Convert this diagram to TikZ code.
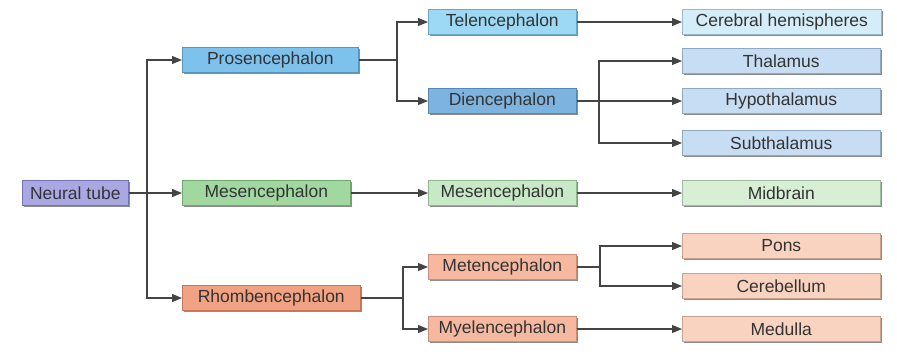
\documentclass[tikz,border=0pt]{standalone}
\usepackage{fontspec}
\setmainfont{Liberation Sans}
\usetikzlibrary{arrows.meta,shadows}
\definecolor{ntF}{HTML}{A9A8E2}\definecolor{ntD}{HTML}{7472B4}
\definecolor{proF}{HTML}{7DC2EC}\definecolor{proD}{HTML}{5A93BC}
\definecolor{telF}{HTML}{9DD9F4}\definecolor{telD}{HTML}{6AA8C8}
\definecolor{dieF}{HTML}{7CB4DF}\definecolor{dieD}{HTML}{5587B0}
\definecolor{cerF}{HTML}{D5EDF8}\definecolor{cerD}{HTML}{9AB8C8}
\definecolor{thaF}{HTML}{C6DDF3}\definecolor{thaD}{HTML}{90A8C0}
\definecolor{m1F}{HTML}{A0D8A0}\definecolor{m1D}{HTML}{70A870}
\definecolor{m2F}{HTML}{C8E9C6}\definecolor{m2D}{HTML}{90B890}
\definecolor{midF}{HTML}{D7EFD5}\definecolor{midD}{HTML}{A0BCA0}
\definecolor{rhoF}{HTML}{F1A283}\definecolor{rhoD}{HTML}{C07858}
\definecolor{metF}{HTML}{F6B9A0}\definecolor{metD}{HTML}{C89078}
\definecolor{ponF}{HTML}{F9D3C0}\definecolor{ponD}{HTML}{C8A490}
\definecolor{txt}{HTML}{333333}
\definecolor{ln}{HTML}{444444}
\tikzset{
  box/.style={anchor=west, minimum height=25pt, inner sep=0pt, line width=0.6pt,
    font=\fontsize{17.5}{20}\selectfont, text=txt,
    drop shadow={shadow xshift=1.6pt, shadow yshift=-1.6pt, fill=black!50, opacity=0.9}},
  arr/.style={draw=ln, line width=1.1pt, -{Triangle[length=10pt,width=8pt]}},
  ln/.style={draw=ln, line width=1.1pt}
}
\begin{document}
\begin{tikzpicture}[x=1pt,y=-1pt]
\useasboundingbox[fill=white] (0,0) rectangle (897,354);
\node[box, fill=ntF, draw=ntD, minimum width=106pt] (nt) at (22,193) {Neural tube};
\node[box, fill=proF, draw=proD, minimum width=176pt] (pro) at (182,60) {Prosencephalon};
\node[box, fill=m1F, draw=m1D, minimum width=168pt] (mes1) at (182,193) {Mesencephalon};
\node[box, fill=rhoF, draw=rhoD, minimum width=178pt] (rho) at (182,298) {Rhombencephalon};
\node[box, fill=telF, draw=telD, minimum width=148pt] (tel) at (428,22) {Telencephalon};
\node[box, fill=dieF, draw=dieD, minimum width=148pt] (die) at (428,101) {Diencephalon};
\node[box, fill=m2F, draw=m2D, minimum width=148pt] (mes2) at (428,193) {Mesencephalon};
\node[box, fill=metF, draw=metD, minimum width=148pt] (met) at (428,267) {Metencephalon};
\node[box, fill=metF, draw=metD, minimum width=148pt] (mye) at (428,329) {Myelencephalon};
\node[box, fill=cerF, draw=cerD, minimum width=199pt] (cer) at (682,22) {Cerebral hemispheres};
\node[box, fill=thaF, draw=thaD, minimum width=198pt] (tha) at (682,61) {Thalamus};
\node[box, fill=thaF, draw=thaD, minimum width=198pt] (hyp) at (682,101) {Hypothalamus};
\node[box, fill=thaF, draw=thaD, minimum width=198pt] (sub) at (682,143) {Subthalamus};
\node[box, fill=midF, draw=midD, minimum width=198pt] (mid) at (682,193) {Midbrain};
\node[box, fill=ponF, draw=ponD, minimum width=198pt] (pons) at (682,246) {Pons};
\node[box, fill=ponF, draw=ponD, minimum width=198pt] (cbl) at (682,286) {Cerebellum};
\node[box, fill=ponF, draw=ponD, minimum width=198pt] (med) at (682,329) {Medulla};
\coordinate (t0) at (147,0);
\coordinate (b1) at (397,0);
\coordinate (b2) at (599,0);
\coordinate (b3) at (403,0);
\coordinate (b4) at (600,0);
% neural tube
\draw[arr] (nt.east) -- (mes1.west);
\draw[arr] (nt.east -| t0) |- (pro.west);
\draw[arr] (nt.east -| t0) |- (rho.west);
% prosencephalon
\draw[ln] (pro.east) -- (pro.east -| b1);
\draw[arr] (pro.east -| b1) |- (tel.west);
\draw[arr] (pro.east -| b1) |- (die.west);
\draw[arr] (tel.east) -- (cer.west);
% diencephalon
\draw[arr] (die.east) -- (hyp.west);
\draw[arr] (die.east -| b2) |- (tha.west);
\draw[arr] (die.east -| b2) |- (sub.west);
% mesencephalon
\draw[arr] (mes1.east) -- (mes2.west);
\draw[arr] (mes2.east) -- (mid.west);
% rhombencephalon
\draw[ln] (rho.east) -- (rho.east -| b3);
\draw[arr] (rho.east -| b3) |- (met.west);
\draw[arr] (rho.east -| b3) |- (mye.west);
\draw[ln] (met.east) -- (met.east -| b4);
\draw[arr] (met.east -| b4) |- (pons.west);
\draw[arr] (met.east -| b4) |- (cbl.west);
\draw[arr] (mye.east) -- (med.west);
\end{tikzpicture}
\end{document}
